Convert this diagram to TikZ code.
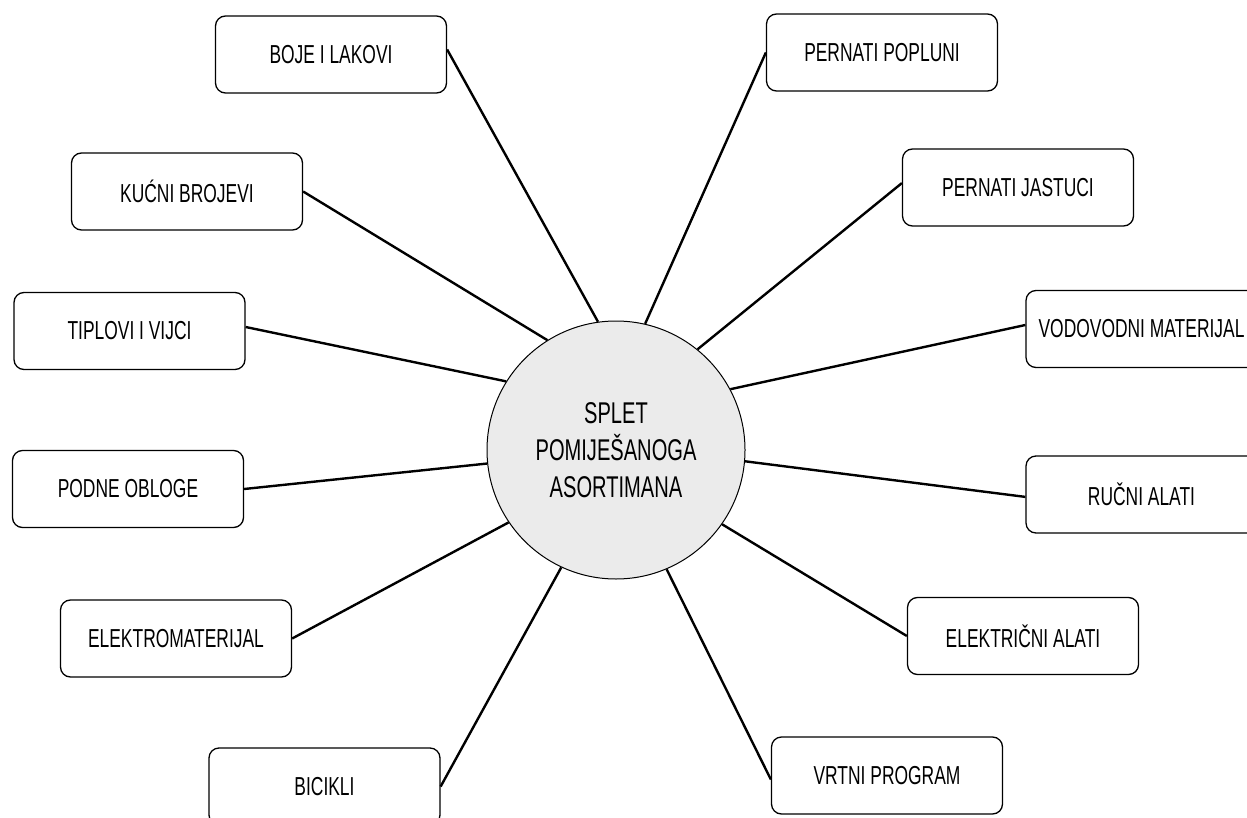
\documentclass[tikz,border=0pt]{standalone}
\usepackage{fontspec}
\setmainfont{Liberation Sans}[FakeStretch=0.67]
\definecolor{circfill}{RGB}{235,235,235}
\begin{document}
\begin{tikzpicture}[x=0.5pt,y=-0.5pt,
  itembox/.style={draw=black, line width=0.65pt, rounded corners=5pt,
    minimum width=115.5pt, minimum height=38.5pt, inner sep=0pt,
    font=\fontsize{13}{15.6}\selectfont},
  hub/.style={circle, draw=black, line width=0.5pt, fill=circfill,
    minimum size=129pt, inner sep=0pt, align=center,
    font=\fontsize{15}{18.5}\selectfont},
  spoke/.style={line width=1.2pt, black}]
\useasboundingbox (0,0) rectangle (1247,818);
\clip (0,0) rectangle (1247,818);
\node[hub] (c) at (616,450) {SPLET\\POMIJEŠANOGA\\ASORTIMANA};
\node[itembox] (boje) at (331,54.5) {BOJE I LAKOVI};
\node[itembox] (kucni) at (187,191.5) {KUĆNI BROJEVI};
\node[itembox] (tiplovi) at (129.5,331) {TIPLOVI I VIJCI};
\node[itembox] (podne) at (128,489) {PODNE OBLOGE};
\node[itembox] (elektro) at (176,638.5) {ELEKTROMATERIJAL};
\node[itembox] (bicikli) at (324.5,786.5) {BICIKLI};
\node[itembox] (poplun) at (882,52.5) {PERNATI POPLUNI};
\node[itembox] (jastuci) at (1018,187.5) {PERNATI JASTUCI};
\node[itembox] (vodo) at (1141.5,329) {VODOVODNI MATERIJAL};
\node[itembox] (rucni) at (1141.5,494.5) {RUČNI ALATI};
\node[itembox] (elalati) at (1023,636) {ELEKTRIČNI ALATI};
\node[itembox] (vrtni) at (887,775.5) {VRTNI PROGRAM};
\draw[spoke] ([yshift=2.5pt]boje.east) -- (c.98.5);
\draw[spoke] (kucni.east) -- (c.122);
\draw[spoke] ([yshift=2pt]tiplovi.east) -- (c.148);
\draw[spoke] (podne.east) -- (c.186);
\draw[spoke] (elektro.east) -- (c.214.5);
\draw[spoke] (bicikli.east) -- (c.245.4);
\draw[spoke] ([yshift=-2pt]vrtni.west) -- (c.293.4);
\draw[spoke] (elalati.west) -- (c.325);
\draw[spoke] ([yshift=-1.2pt]rucni.west) -- (c.355.6);
\draw[spoke] ([yshift=2pt]vodo.west) -- (c.28.7);
\draw[spoke] ([yshift=2.2pt]jastuci.west) -- (c.51.2);
\draw[spoke] (poplun.west) -- (c.77.8);
\end{tikzpicture}
\end{document}
